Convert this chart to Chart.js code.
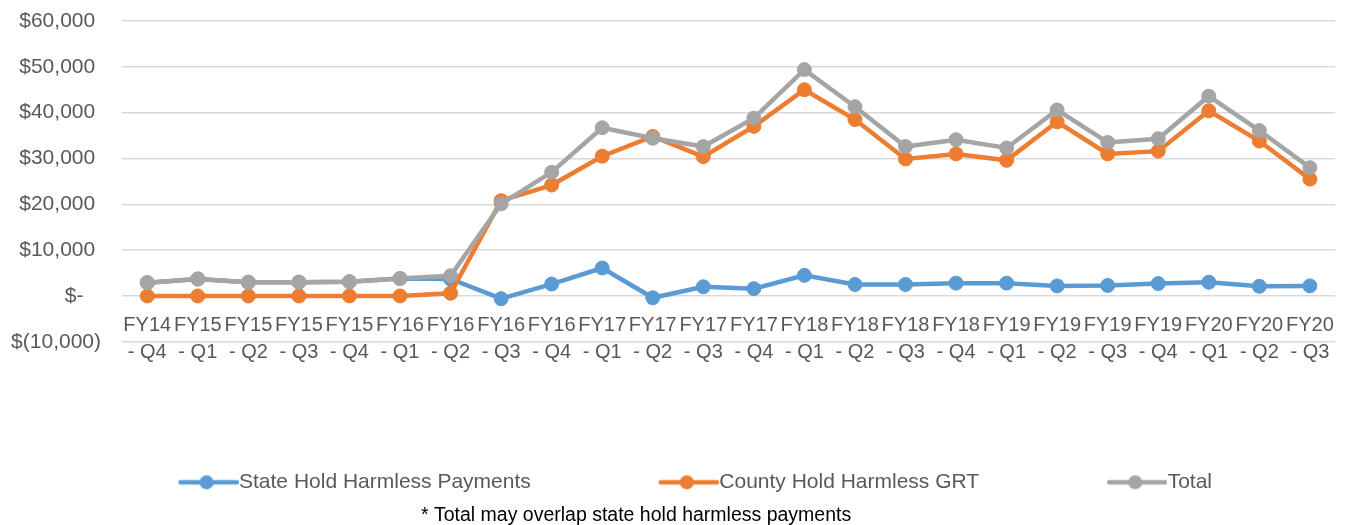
<!DOCTYPE html>
<html>
<head>
<meta charset="utf-8">
<script src="https://cdn.jsdelivr.net/npm/chart.js@4.4.1/dist/chart.umd.min.js"></script>
<style>
  html, body { margin: 0; padding: 0; background: #ffffff; }
  #wrap { width: 1350px; height: 525px; position: relative; }
</style>
</head>
<body>
<div id="wrap"><canvas id="c"></canvas></div>
<script>
const categories = [
  ["FY14", "- Q4"], ["FY15", "- Q1"], ["FY15", "- Q2"], ["FY15", "- Q3"], ["FY15", "- Q4"],
  ["FY16", "- Q1"], ["FY16", "- Q2"], ["FY16", "- Q3"], ["FY16", "- Q4"],
  ["FY17", "- Q1"], ["FY17", "- Q2"], ["FY17", "- Q3"], ["FY17", "- Q4"],
  ["FY18", "- Q1"], ["FY18", "- Q2"], ["FY18", "- Q3"], ["FY18", "- Q4"],
  ["FY19", "- Q1"], ["FY19", "- Q2"], ["FY19", "- Q3"], ["FY19", "- Q4"],
  ["FY20", "- Q1"], ["FY20", "- Q2"], ["FY20", "- Q3"]
];
const stateHoldHarmless = [2900, 3700, 3000, 3000, 3100, 3800, 3700, -600, 2600, 6100, -400, 2000, 1600, 4500, 2500, 2500, 2800, 2800, 2200, 2300, 2700, 3000, 2100, 2200];
const countyHoldHarmless = [0, 0, 0, 0, 0, 0, 600, 20800, 24200, 30500, 34800, 30400, 37000, 45000, 38500, 29900, 31000, 29600, 38000, 31000, 31600, 40400, 33800, 25500];
const totalValues = [2900, 3700, 3000, 3000, 3100, 3800, 4400, 20100, 27000, 36700, 34400, 32600, 38800, 49400, 41300, 32600, 34100, 32300, 40600, 33500, 34300, 43600, 36100, 28000];
const seriesNames = ["State Hold Harmless Payments", "County Hold Harmless GRT", "Total"];
const seriesColors = ["#5B9BD5", "#ED7D31", "#A5A5A5"];
const yMin = -10000, yMax = 60000, yStep = 10000;
const footnote = "* Total may overlap state hold harmless payments";

const FONT = "'Liberation Sans', Arial, sans-serif";
Chart.defaults.font.family = FONT;
Chart.defaults.color = "#595959";

function legendIcon(color) {
  const c = document.createElement('canvas');
  c.width = 70; c.height = 20;
  const g = c.getContext('2d');
  g.strokeStyle = color; g.lineWidth = 4.5; g.lineCap = 'round';
  g.beginPath(); g.moveTo(12, 10); g.lineTo(68, 10); g.stroke();
  g.fillStyle = color;
  g.beginPath(); g.arc(38, 10, 7, 0, Math.PI * 2); g.fill();
  return c;
}

function fmt(v) {
  if (v === 0) return "$-   ";
  const s = Math.abs(v).toLocaleString('en-US');
  return v < 0 ? "$(" + s + ")" : "$" + s + " ";
}

const valueSets = [stateHoldHarmless, countyHoldHarmless, totalValues];
const orders = [3, 2, 1];
const datasets = valueSets.map((vals, i) => ({
  label: seriesNames[i],
  data: vals,
  borderColor: seriesColors[i],
  backgroundColor: seriesColors[i],
  pointBackgroundColor: seriesColors[i],
  pointBorderColor: seriesColors[i],
  pointBorderWidth: 1,
  pointRadius: 7,
  pointHoverRadius: 7,
  borderWidth: 4.5,
  tension: 0,
  order: orders[i]
}));

new Chart(document.getElementById('c'), {
  type: 'line',
  data: { labels: categories, datasets: datasets },
  options: {
    responsive: true,
    maintainAspectRatio: false,
    animation: false,
    events: [],
    layout: { padding: { left: 8, right: 10, top: 21, bottom: 0 } },
    scales: {
      x: {
        type: 'category',
        position: { y: 0 },
        offset: true,
        grid: { display: false, drawTicks: false },
        border: { display: false },
        ticks: {
          autoSkip: false, maxRotation: 0, minRotation: 0,
          padding: 16,
          color: "#595959",
          font: { size: 20, lineHeight: 1.35 }
        }
      },
      y: {
        min: yMin, max: yMax,
        afterFit: (scale) => { scale.width = 114; },
        grid: { color: "#D9D9D9", lineWidth: 1.5, drawTicks: true, tickLength: 13, tickColor: 'rgba(0,0,0,0)' },
        border: { display: false },
        ticks: {
          stepSize: yStep,
          padding: 8,
          color: "#595959",
          font: { size: 21 },
          callback: (v) => fmt(v)
        }
      }
    },
    plugins: {
      tooltip: { enabled: false },
      legend: {
        position: 'bottom',
        align: 'end',
        title: { display: true, text: ' ', font: { size: 2, lineHeight: 1 }, padding: 0 },
        labels: {
          padding: 128,
          usePointStyle: true,
          pointStyleWidth: 50,
          color: "#595959",
          font: { size: 21 },
          generateLabels: (chart) => chart.data.datasets.map((ds, i) => ({
            text: ds.label,
            fillStyle: ds.borderColor,
            strokeStyle: ds.borderColor,
            lineWidth: 0,
            pointStyle: legendIcon(ds.borderColor),
            hidden: false,
            datasetIndex: i,
            fontColor: "#595959"
          }))
        }
      },
      title: {
        display: true,
        position: 'bottom',
        text: footnote + ' '.repeat(14),
        color: "#000000",
        font: { size: 19.5, weight: 'normal', lineHeight: 1.0 },
        padding: { top: 2.7, bottom: 0 }
      }
    }
  }
});
</script>
</body>
</html>
